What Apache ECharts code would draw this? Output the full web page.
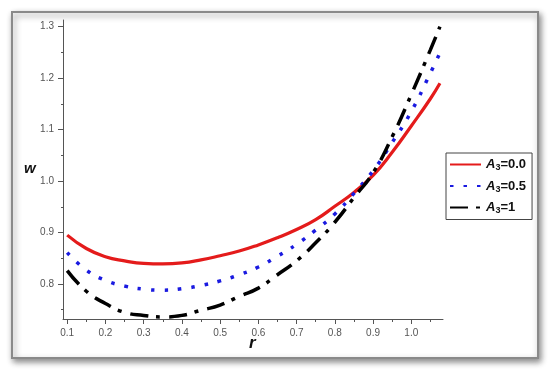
<!DOCTYPE html>
<html><head><meta charset="utf-8">
<script src="https://cdn.jsdelivr.net/npm/echarts@6/dist/echarts.min.js"></script>
<style>html,body{margin:0;padding:0;background:#fff}#c{width:550px;height:372px}</style>
</head><body><div id="c"></div>
<script>
const rValues = [0.1,0.15,0.2,0.25,0.3,0.35,0.4,0.45,0.5,0.55,0.6,0.65,0.7,0.75,0.8,0.85,0.9,0.95,1.0,1.05,1.075];
const wA0 = [0.895,0.869,0.853,0.845,0.840,0.839,0.841,0.847,0.855,0.864,0.876,0.890,0.906,0.925,0.951,0.978,1.011,1.056,1.107,1.160,1.190];
const wA05 = [0.861,0.827,0.807,0.796,0.790,0.788,0.791,0.797,0.806,0.818,0.833,0.854,0.877,0.905,0.936,0.976,1.020,1.075,1.135,1.210,1.249];
const wA1 = [0.826,0.786,0.762,0.745,0.739,0.736,0.739,0.749,0.759,0.776,0.792,0.818,0.845,0.880,0.920,0.968,1.016,1.086,1.168,1.255,1.300];
const seriesNames = ['A3=0.0','A3=0.5','A3=1'];
const legendLabels = ['{i|A}{s|3}{n|=0.0}','{i|A}{s|3}{n|=0.5}','{i|A}{s|3}{n|=1}'];
const xMajorTicks = [0.1,0.2,0.3,0.4,0.5,0.6,0.7,0.8,0.9,1.0];
const xMinorTicks = [0.15,0.25,0.35,0.45,0.55,0.65,0.75,0.85,0.95,1.05];
const yMajorTicks = [0.8,0.9,1.0,1.1,1.2,1.3];
const yMinorTicks = [0.75,0.85,0.95,1.05,1.15,1.25];

const pair = (ys) => rValues.map((r,i)=>[r, ys[i]]);
const chart = echarts.init(document.getElementById('c'), null, {renderer:'canvas'});
const X_MIN = 0.089, X_MAX = 1.083, Y_MIN = 0.732, Y_MAX = 1.313;
const axisColor = '#555';
const lblStyle = {color:'#555', fontFamily:'Liberation Sans', fontSize:10};

chart.setOption({
  animation:false,
  backgroundColor:'#fff',
  graphic:[
    {type:'rect', z:-10, shape:{x:12,y:12,width:526,height:346},
     style:{fill:'#fff', stroke:'#8a8a8a', lineWidth:2, shadowBlur:6, shadowOffsetX:2, shadowOffsetY:3, shadowColor:'rgba(0,0,0,0.45)'}},
    {type:'text', left:24, top:161, style:{text:'w', font:'italic bold 15px "Liberation Sans"', fill:'#111'}},
    {type:'text', left:249, top:335, style:{text:'r', font:'italic bold 17px "Liberation Sans"', fill:'#111'}}
  ],
  grid:{left:63, right:107, top:20, bottom:53, containLabel:false},
  legend:{
    orient:'vertical', left:446, top:153, width:87,
    padding:[5,6,4,3], itemGap:7, itemWidth:31, itemHeight:14,
    borderColor:'#444', borderWidth:1, backgroundColor:'#fff',
    itemStyle:{opacity:0},
    data:seriesNames,
    formatter:(name)=>legendLabels[seriesNames.indexOf(name)],
    textStyle:{
      fontFamily:'Liberation Sans', fontSize:12, color:'#111',
      rich:{
        i:{fontStyle:'italic', fontWeight:'bold', fontSize:13, fontFamily:'Liberation Sans', color:'#111'},
        s:{fontSize:9, fontWeight:'bold', fontFamily:'Liberation Sans', color:'#111', padding:[7,0,0,0]},
        n:{fontSize:13, fontWeight:'bold', fontFamily:'Liberation Sans', color:'#111'}
      }
    }
  },
  xAxis:[
    {type:'value', min:X_MIN, max:X_MAX, gridIndex:0,
     axisLine:{show:true, onZero:false, lineStyle:{color:axisColor, width:1}},
     axisTick:{show:true, length:5, customValues:xMajorTicks, lineStyle:{color:axisColor}},
     axisLabel:Object.assign({show:true, margin:9, customValues:xMajorTicks, formatter:(v)=>v.toFixed(1)}, lblStyle),
     splitLine:{show:false}},
    {type:'value', min:X_MIN, max:X_MAX, gridIndex:0, position:'bottom',
     axisLine:{show:false, onZero:false},
     axisTick:{show:true, length:3, customValues:xMinorTicks, lineStyle:{color:axisColor}},
     axisLabel:{show:false}, splitLine:{show:false}}
  ],
  yAxis:[
    {type:'value', min:Y_MIN, max:Y_MAX, gridIndex:0,
     axisLine:{show:true, onZero:false, lineStyle:{color:axisColor, width:1}},
     axisTick:{show:true, length:5, customValues:yMajorTicks, lineStyle:{color:axisColor}},
     axisLabel:Object.assign({show:true, margin:9, customValues:yMajorTicks, formatter:(v)=>v.toFixed(1)}, lblStyle),
     splitLine:{show:false}},
    {type:'value', min:Y_MIN, max:Y_MAX, gridIndex:0, position:'left',
     axisLine:{show:false, onZero:false},
     axisTick:{show:true, length:2, customValues:yMinorTicks, lineStyle:{color:axisColor}},
     axisLabel:{show:false}, splitLine:{show:false}}
  ],
  series:[
    {name:seriesNames[0], type:'line', smooth:true, showSymbol:false, symbol:'none', data:pair(wA0),
     lineStyle:{color:'#e41b1b', width:3.2}, itemStyle:{color:'#e41b1b'}, z:3},
    {name:seriesNames[1], type:'line', smooth:true, showSymbol:false, symbol:'none', data:pair(wA05),
     lineStyle:{color:'#1a1ae0', width:3.5, type:[3.5,10], cap:'butt'}, itemStyle:{color:'#1a1ae0'}, z:4},
    {name:seriesNames[2], type:'line', smooth:true, showSymbol:false, symbol:'none', data:pair(wA1),
     lineStyle:{color:'#000', width:3.5, type:[18,8,4,9], cap:'butt'}, itemStyle:{color:'#000'}, z:5}
  ]
});
</script></body></html>
